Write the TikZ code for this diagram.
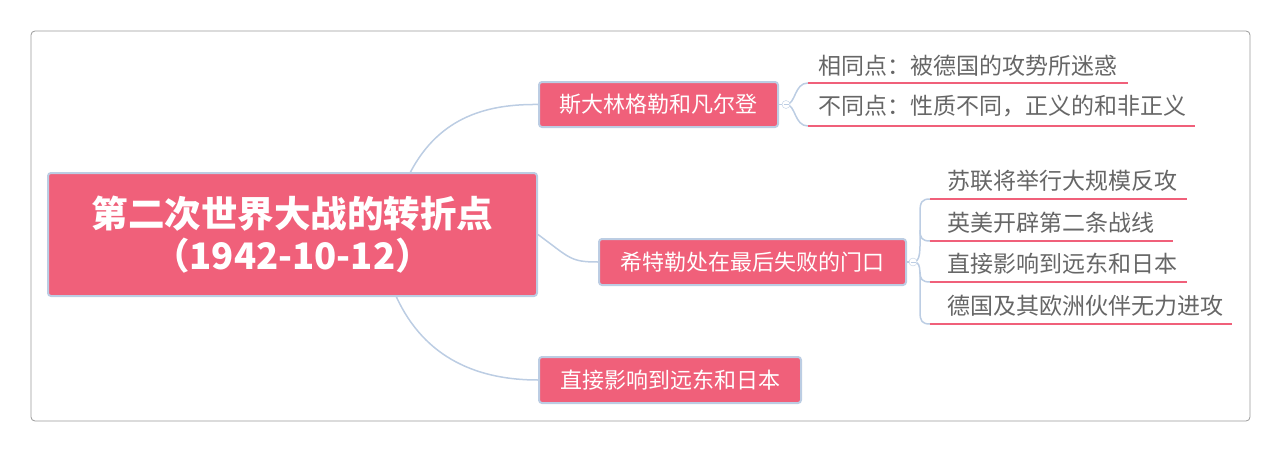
\documentclass[tikz,border=0pt]{standalone}
\usepackage{fontspec}
\setmainfont{Noto Sans CJK SC}
\definecolor{rosy}{HTML}{F0607A}
\definecolor{edge}{HTML}{BCCDE3}
\definecolor{txt}{HTML}{666666}
\begin{document}
\begin{tikzpicture}[x=1pt,y=-1pt,
  main/.style={draw=edge,line width=2pt,fill=rosy,rounded corners=3pt,text=white,inner sep=0pt},
  leaf/.style={text=txt,font=\fontsize{23}{26}\selectfont,anchor=west,inner sep=0pt},
  con/.style={draw=edge,line width=1.5pt},
  ul/.style={draw=rosy,line width=2pt},
  tog/.style={circle,draw=edge,fill=white,minimum size=8pt,inner sep=0pt}]
\useasboundingbox (0,0) rectangle (1281,452);
\draw[draw=black!40,line width=0.8pt,rounded corners=4pt] (31,31) rectangle (1250,421);
\node[main,minimum width=489pt,minimum height=123pt,font=\bfseries\fontsize{36.5}{42}\selectfont,align=center] (root) at (292.5,234.5) {第二次世界大战的转折点\\（1942-10-12）};
\node[main,minimum width=239pt,minimum height=45pt,font=\fontsize{22}{26}\selectfont] (n1) at (658.5,104.5) {斯大林格勒和凡尔登};
\node[main,minimum width=307pt,minimum height=46pt,font=\fontsize{22}{26}\selectfont] (n2) at (752.5,262) {希特勒处在最后失败的门口};
\node[main,minimum width=262pt,minimum height=46pt,font=\fontsize{22}{26}\selectfont] (n3) at (670,380) {直接影响到远东和日本};
\coordinate (rt) at (410,173);
\coordinate (rb) at (396,296);
\draw[con] (rt) .. controls (440,115) and (490,104) .. (n1.west);
\draw[con] (root.east) .. controls (570,258) and (570,262) .. (n2.west);
\draw[con] (rb) .. controls (425,360) and (480,380) .. (n3.west);
\draw[con] (n1.east) -- (786,104.5);
\draw[con] (n2.east) -- (913,262);
\node[leaf] (a1) at (818,66) {相同点：被德国的攻势所迷惑};
\node[leaf] (a2) at (818,106) {不同点：性质不同，正义的和非正义};
\coordinate (a1s) at (808,83); \coordinate (a1e) at (1128,83);
\coordinate (a2s) at (808,126); \coordinate (a2e) at (1195,126);
\draw[con] (786,104.5) .. controls (796,104.5) and (794,83) .. (a1s);
\draw[con] (786,104.5) .. controls (796,104.5) and (794,126) .. (a2s);
\draw[ul] (a1s) -- (a1e);
\draw[ul] (a2s) -- (a2e);
\node[tog] (t1) at (786,104.5) {};
\draw[edge,line width=0.8pt] (783.5,104.5) -- (788.5,104.5);
\node[leaf] (b1) at (947,181) {苏联将举行大规模反攻};
\node[leaf] (b2) at (947,223) {英美开辟第二条战线};
\node[leaf] (b3) at (947,264) {直接影响到远东和日本};
\node[leaf] (b4) at (947,306) {德国及其欧洲伙伴无力进攻};
\coordinate (b1s) at (930,199); \coordinate (b1e) at (1187,199);
\coordinate (b2s) at (930,241); \coordinate (b2e) at (1173,241);
\coordinate (b3s) at (930,282); \coordinate (b3e) at (1187,282);
\coordinate (b4s) at (930,324); \coordinate (b4e) at (1232,324);
\draw[con] (913,262) .. controls (921,262) and (920,250) .. (920,230) -- (920,212) .. controls (920,202) and (922,199) .. (b1s);
\draw[con] (920,230) .. controls (920,238) and (922,241) .. (b2s);
\draw[con] (913,262) .. controls (921,262) and (920,268) .. (920,290) -- (920,312) .. controls (920,321) and (922,324) .. (b4s);
\draw[con] (920,272) .. controls (920,279) and (922,282) .. (b3s);
\draw[ul] (b1s) -- (b1e);
\draw[ul] (b2s) -- (b2e);
\draw[ul] (b3s) -- (b3e);
\draw[ul] (b4s) -- (b4e);
\node[tog] (t2) at (913,262) {};
\draw[edge,line width=0.8pt] (910.5,262) -- (915.5,262);
\end{tikzpicture}
\end{document}
